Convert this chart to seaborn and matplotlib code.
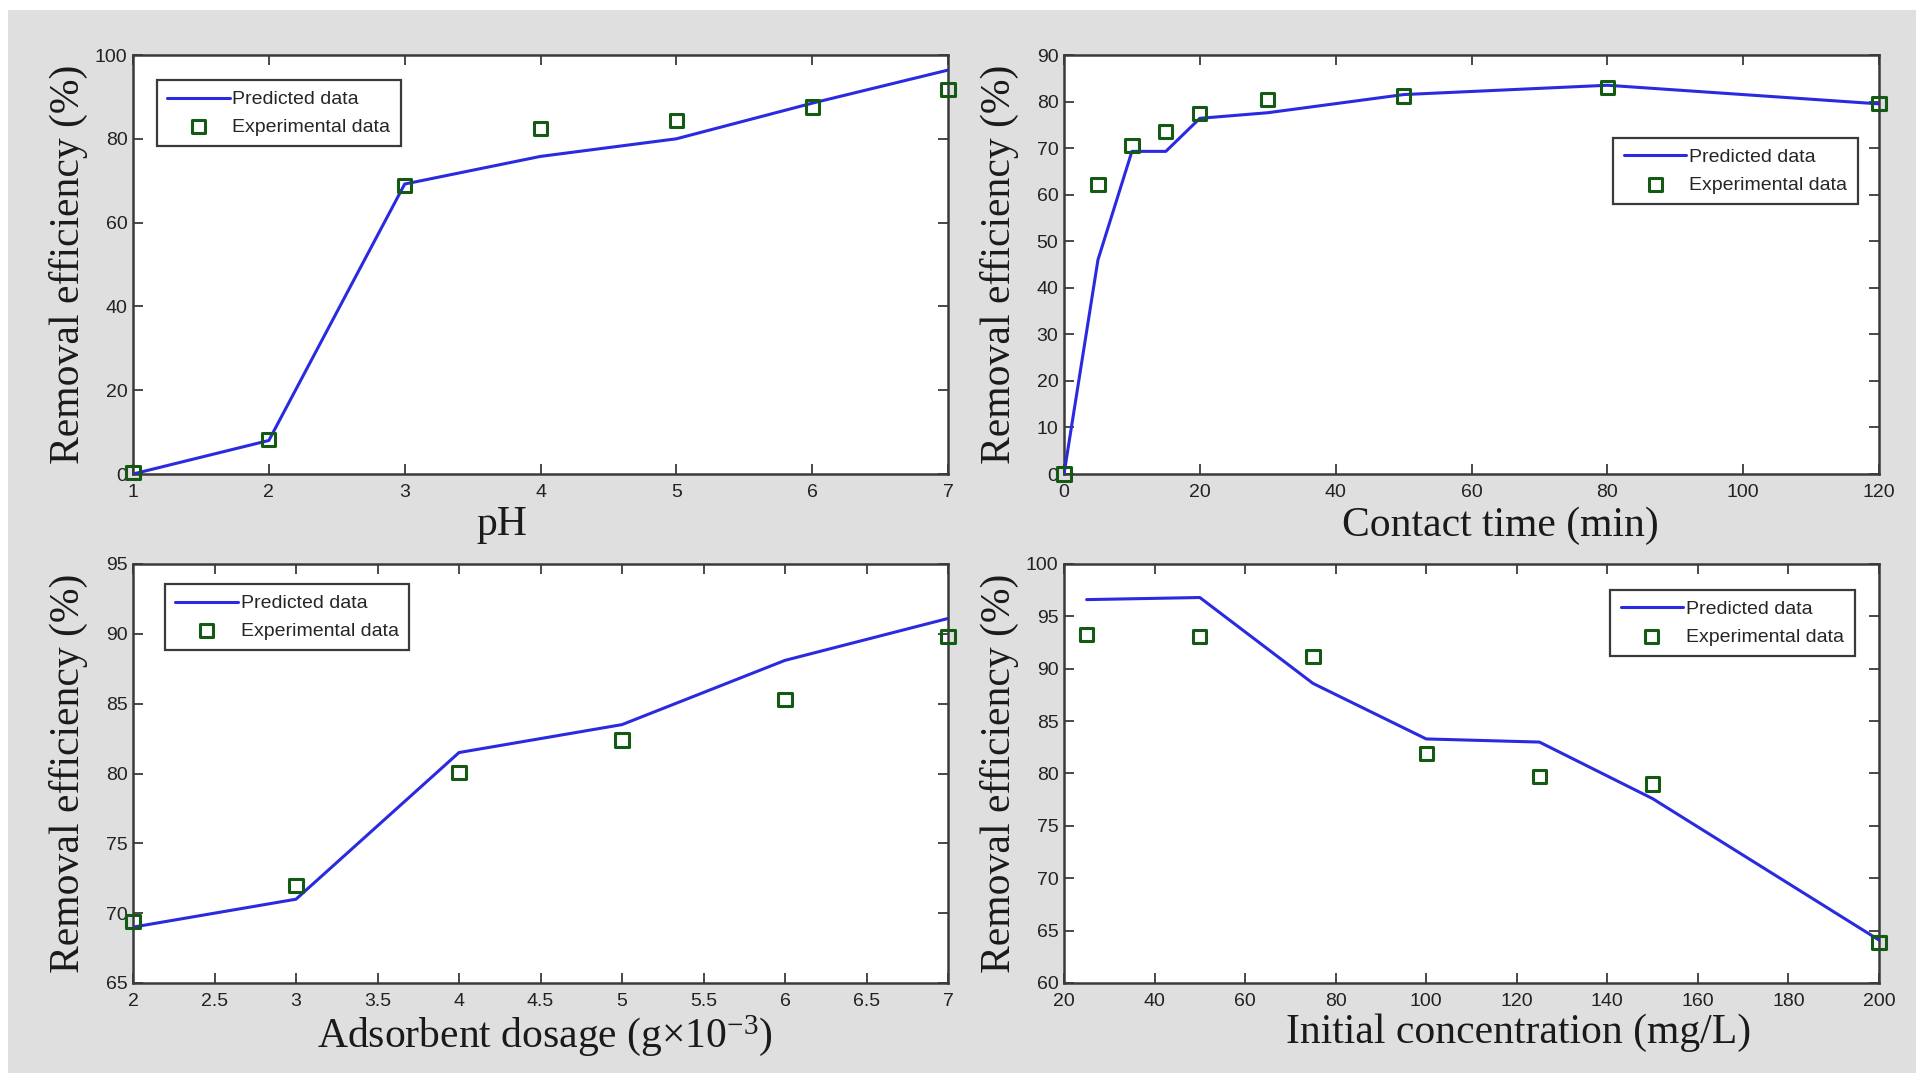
import matplotlib
matplotlib.use("Agg")
import matplotlib.pyplot as plt
from matplotlib.patches import Rectangle
import seaborn as sns
import pandas as pd

# ---- data -------------------------------------------------------------
ph_x = [1, 2, 3, 4, 5, 6, 7]
ph_pred = [0.0, 8.0, 69.2, 75.8, 80.0, 88.5, 96.4]
ph_exp = [0.3, 8.3, 68.8, 82.5, 84.4, 87.6, 91.8]

time_x = [0, 5, 10, 15, 20, 30, 50, 80, 120]
time_pred = [0.0, 46.0, 69.3, 69.3, 76.4, 77.6, 81.5, 83.5, 79.5]
time_exp = [0.0, 62.1, 70.6, 73.6, 77.5, 80.4, 81.2, 83.0, 79.6]

dose_x = [2, 3, 4, 5, 6, 7]
dose_pred = [69.0, 71.0, 81.5, 83.5, 88.1, 91.1]
dose_exp = [69.4, 72.0, 80.1, 82.4, 85.3, 89.8]

conc_x = [25, 50, 75, 100, 125, 150, 200]
conc_pred = [96.6, 96.8, 88.6, 83.3, 83.0, 77.6, 64.1]
conc_exp = [93.3, 93.1, 91.2, 81.9, 79.7, 79.0, 63.9]

x_labels = ["pH", "Contact time (min)",
            "Adsorbent dosage (g\u00d710$^{-3}$)", "Initial concentration (mg/L)"]
y_label = "Removal efficiency (%)"
legend_labels = ["Predicted data", "Experimental data"]

# ---- style ------------------------------------------------------------
sns.set_style("ticks")
plt.rcParams["font.family"] = ["Liberation Sans", "DejaVu Sans"]
plt.rcParams["mathtext.fontset"] = "custom"
plt.rcParams["mathtext.rm"] = "Liberation Serif"
plt.rcParams["mathtext.it"] = "Liberation Serif:italic"

BG = "#dfdfdf"
LINE = "#2a2ae0"
MARK = "#145a14"
SPINE = "#3a3a3a"

fig = plt.figure(figsize=(19.16, 10.73), dpi=100, facecolor="white")
fig.add_artist(Rectangle((8 / 1916, 0), 1, 1 - 10 / 1073, transform=fig.transFigure,
                         facecolor=BG, edgecolor="none", zorder=-10))

W = 815 / 1916
H = 419 / 1073
specs = [
    # left, bottom, xlim, ylim, xticks, yticks, legend anchor, xlabel position
    (133 / 1916, 1 - 474 / 1073, (1, 7), (0, 100), range(1, 8), range(0, 101, 20), (0.029, 0.940), (0.452, -0.074)),
    (1064 / 1916, 1 - 474 / 1073, (0, 120), (0, 90), range(0, 121, 20), range(0, 91, 10), (0.674, 0.802), (0.536, -0.078)),
    (133 / 1916, 1 - 983 / 1073, (2, 7), (65, 95), [2 + 0.5 * i for i in range(11)], range(65, 96, 5), (0.039, 0.952), (0.506, -0.072)),
    (1064 / 1916, 1 - 983 / 1073, (20, 200), (60, 100), range(20, 201, 20), range(60, 101, 5), (0.670, 0.938), (0.558, -0.072)),
]
series = [(ph_x, ph_pred, ph_exp), (time_x, time_pred, time_exp),
          (dose_x, dose_pred, dose_exp), (conc_x, conc_pred, conc_exp)]

for i, ((left, bottom, xlim, ylim, xt, yt, lg, xlpos), (xs, yp, ye)) in enumerate(zip(specs, series)):
    ax = fig.add_axes([left, bottom, W, H])
    ax.set_facecolor("white")
    df = pd.DataFrame({"x": xs, "pred": yp, "exp": ye})
    sns.lineplot(data=df, x="x", y="pred", ax=ax, color=LINE, linewidth=2.2,
                 label=legend_labels[0], zorder=3)
    sns.scatterplot(data=df, x="x", y="exp", ax=ax, marker="s", s=90,
                    facecolor="none", edgecolor=MARK, linewidth=2.2,
                    label=legend_labels[1], zorder=4, clip_on=False)
    ax.set_xlim(*xlim)
    ax.set_ylim(*ylim)
    ax.set_xticks(list(xt))
    ax.set_yticks(list(yt))
    ax.set_xticklabels([("%g" % v) for v in xt])
    ax.set_yticklabels([("%g" % v) for v in yt])
    for sp in ax.spines.values():
        sp.set_visible(True)
        sp.set_color(SPINE)
        sp.set_linewidth(1.8)
    ax.tick_params(direction="in", length=7, width=1.3, color=SPINE,
                   top=True, right=True, labelsize=14, labelcolor="#222222")
    ax.tick_params(axis="x", pad=7)
    ax.tick_params(axis="y", pad=4)
    ax.set_xlabel(x_labels[i], fontsize=30, family="Liberation Serif", color="#1a1a1a")
    ax.set_ylabel(y_label, fontsize=30, family="Liberation Serif", color="#1a1a1a")
    ax.xaxis.set_label_coords(*xlpos)
    ax.yaxis.set_label_coords(-0.055, 0.5)
    leg = ax.legend(loc="upper left", bbox_to_anchor=lg, borderaxespad=0,
                    fontsize=14, frameon=True, fancybox=False, handlelength=3.2,
                    handletextpad=0.15, borderpad=0.55, labelspacing=0.5)
    leg.get_frame().set_edgecolor(SPINE)
    leg.get_frame().set_linewidth(1.6)
    leg.get_frame().set_facecolor("white")
    leg.get_frame().set_alpha(1)

fig.savefig("out.png", dpi=100, facecolor=fig.get_facecolor())
